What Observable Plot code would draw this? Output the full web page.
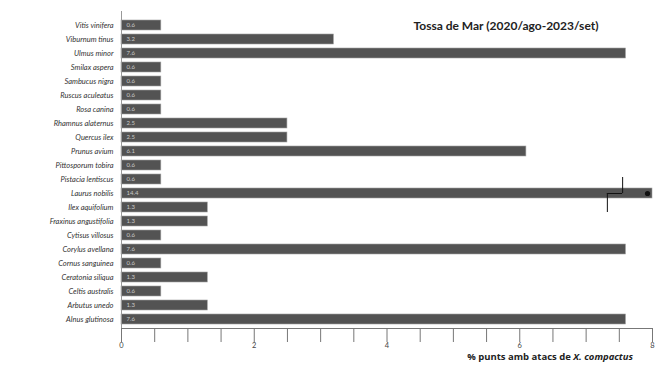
<!DOCTYPE html>
<html>
<head>
<meta charset="utf-8">
<script src="https://cdn.jsdelivr.net/npm/d3@7"></script>
<script src="https://cdn.jsdelivr.net/npm/@observablehq/plot@0.6"></script>
<style>
  body { margin: 0; background: #fff; }
  #wrap { position: relative; width: 667px; height: 365px; }
  #xlabel { position: absolute; left: 0; width: 633px; text-align: right; top: 350px;
    font: bold 9.5px "Open Sans", sans-serif; color: #222; }
</style>
</head>
<body>
<div id="wrap">
  <div id="chart"></div>
  <div id="xlabel">% punts amb atacs de <i>X. compactus</i></div>
</div>
<script>
const species = [
  "Vitis vinifera", "Viburnum tinus", "Ulmus minor", "Smilax aspera", "Sambucus nigra",
  "Ruscus aculeatus", "Rosa canina", "Rhamnus alaternus", "Quercus ilex", "Prunus avium",
  "Pittosporum tobira", "Pistacia lentiscus", "Laurus nobilis", "Ilex aquifolium",
  "Fraxinus angustifolia", "Cytisus villosus", "Corylus avellana", "Cornus sanguinea",
  "Ceratonia siliqua", "Celtis australis", "Arbutus unedo", "Alnus glutinosa"
];
const values = [0.6, 3.2, 7.6, 0.6, 0.6, 0.6, 0.6, 2.5, 2.5, 6.1, 0.6, 0.6, 14.4, 1.3, 1.3, 0.6, 7.6, 0.6, 1.3, 0.6, 1.3, 7.6];
const xTicks = [0, 2, 4, 6, 8];
const xMinorTicks = d3.range(0, 8.01, 0.5);
const title = "Tossa de Mar (2020/ago-2023/set)";
const xMax = 8;
// axis-break marker on the bar that exceeds the axis
const breakSpecies = "Laurus nobilis";
const breakX = [7.32, 7.55];
const lastSpecies = species[species.length - 1];

const W = 667, H = 365, mB = 33;
const data = species.map((s, i) => ({species: s, value: values[i], shown: Math.min(values[i], xMax)}));

const chart = Plot.plot({
  width: W,
  height: H,
  marginLeft: 121,
  marginRight: 15,
  marginTop: 11,
  marginBottom: mB,
  style: {fontFamily: "Lato, sans-serif", background: "#fff"},
  x: {domain: [0, xMax], label: null, axis: null},
  y: {domain: species, padding: 0.3, tickSize: 0, tickPadding: 8, label: null},
  marks: [
    Plot.barX(data, {y: "species", x: "shown", fill: "#535353", stroke: "#a0a0a0", strokeWidth: 0.6}),
    Plot.text(data, {y: "species", x: 0, text: d => d.value.toFixed(1), dx: 5, textAnchor: "start", fill: "#c8c8c8", fontSize: 6}),
    Plot.dot(data.filter(d => d.value > xMax), {y: "species", x: xMax, dx: -5, r: 2.6, fill: "#111"}),
    Plot.tickX([breakX[1]], {x: d => d, y: () => breakSpecies, insetTop: -11, insetBottom: 5, stroke: "#111", strokeWidth: 1}),
    Plot.tickX([breakX[0]], {x: d => d, y: () => breakSpecies, insetTop: 5, insetBottom: -14, stroke: "#111", strokeWidth: 1}),
    Plot.ruleY([breakSpecies], {y: d => d, x1: breakX[0], x2: breakX[1], stroke: "#111", strokeWidth: 1}),
    Plot.ruleX([0], {stroke: "#999", strokeWidth: 1}),
    // bottom axis line: a thin rule just below the last band
    Plot.ruleY([lastSpecies], {y: d => d, x1: 0, x2: xMax, dy: 9, stroke: "#777", strokeWidth: 1.2}),
    // minor/major ticks below the axis line
    Plot.tickX(xMinorTicks, {x: d => d, y: () => lastSpecies, insetTop: 14, insetBottom: -18, stroke: "#777", strokeWidth: 1}),
    Plot.axisX(xTicks, {anchor: "bottom", tickSize: 0, tickPadding: 10, fontSize: 7.5, fill: "#444", label: null}),
    Plot.text([title], {frameAnchor: "top-right", dx: -54, dy: 10, fontSize: 12, fontWeight: "bold", fill: "#222"})
  ]
});
d3.select(chart).selectAll('g[aria-label="y-axis tick label"] text')
  .attr("font-style", "italic").attr("fill", "#333").attr("font-size", 7.5);
document.getElementById("chart").appendChild(chart);
</script>
</body>
</html>
